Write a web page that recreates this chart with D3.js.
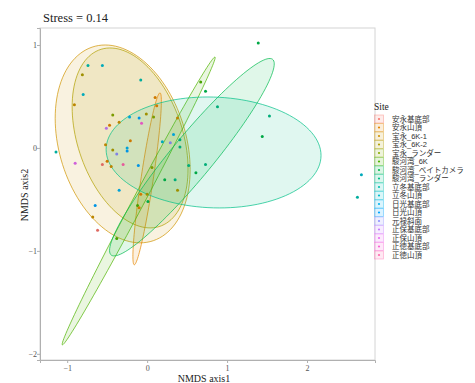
<!DOCTYPE html>
<html>
<head>
<meta charset="utf-8">
<script src="https://cdn.jsdelivr.net/npm/d3@7"></script>
<style>
  body { margin: 0; background: #fff; }
  svg text { font-family: "Liberation Serif", "DejaVu Serif", serif; }
</style>
</head>
<body>
<div id="graph"></div>
<script>
// sites (legend order) and their colours (ggplot hue palette, 17 levels)
const sites = ["安永基底部", "安永山頂", "宝永_6K-1", "宝永_6K-2", "宝永_ランダー",
  "駿河湾_6K", "駿河湾_ベイトカメラ", "駿河湾_ランダー", "立冬基底部", "立冬山頂",
  "日光基底部", "日光山頂", "元禄斜面", "正保基底部", "正保山頂", "正徳基底部", "正徳山頂"];
const siteColors = ["#F8766D", "#E58700", "#D09400", "#B1A000", "#89AC00",
  "#4FB400", "#00BB4E", "#00C087", "#00C0B0", "#00BDD0",
  "#00B4F0", "#00A5FF", "#8F91FF", "#C77CFF", "#E86BF3", "#FB61D7", "#FF65AC"];

// NMDS scores
const ptSite = [8, 9, 3, 9, 2, 8, 1, 1, 4, 10, 11, 3, 2, 1, 13, 15, 4, 2, 1, 2,
  3, 10, 11, 12, 8, 14, 0, 1, 2, 16, 11, 9, 10, 7, 7, 7, 7, 6, 6, 7,
  3, 10, 5, 6, 7, 6, 7, 6, 9, 8, 11, 2, 0, 5, 1, 3, 5, 1, 6, 4, 12];
const nmds1 = [-0.74, -0.56, -0.81, -0.80, -0.91, -0.08, 0.10, 0.12, -0.43, -0.22, -0.10, -0.01, -0.35, -0.47, -0.51, -0.07, 0.08, 0.38, -0.21, -0.52,
  -0.43, -0.25, -0.25, -0.38, -1.14, -0.90, -0.56, -0.50, -0.45, -0.30, -0.11, 0.19, 0.33, 0.41, 0.41, 0.52, 0.73, 0.61, 0.22, 0.35,
  0.38, -0.35, 0.67, 0.73, 0.88, 1.39, 1.53, 1.44, 2.68, 2.63, -0.65, -0.68, -0.62, -0.38, -0.08, 0.00, -0.12, -0.10, 0.01, 0.06, 0.29];
const nmds2 = [0.80, 0.80, 0.71, 0.52, 0.42, 0.66, 0.49, 0.41, 0.32, 0.30, 0.29, 0.33, 0.25, 0.22, 0.19, 0.24, 0.30, 0.29, 0.07, 0.03,
  -0.02, 0.00, -0.03, -0.06, -0.04, -0.15, -0.16, -0.13, -0.18, -0.16, -0.17, 0.06, 0.13, 0.08, 0.01, -0.17, -0.16, -0.24, -0.31, -0.31,
  -0.41, -0.41, 0.64, 0.55, 0.40, 1.02, 0.31, 0.11, -0.26, -0.48, -0.56, -0.67, -0.80, -0.88, -0.45, -0.45, -0.56, -0.58, -0.52, -0.19, 0.05];

// 95% ellipses: centre, spread along each axis and correlation (data units)
const ellSite = [2, 3, 1, 5, 6, 7];
const ellCx = [-0.306, -0.213, 0.000, -0.106, 0.560, 0.831];
const ellCy = [0.039, 0.097, -0.300, -0.515, -0.090, -0.044];
const ellSx = [0.844, 0.725, 0.178, 0.957, 1.030, 1.344];
const ellSy = [0.961, 0.874, 0.835, 1.398, 0.959, 0.539];
const ellRho = [-0.259, -0.345, 0.901, 0.9963, 0.945, -0.054];

const xTicks = [-1, 0, 1, 2];
const yTicks = [-2, -1, 0, 1];

const W = 475, H = 383;
const svg = d3.select("#graph").append("svg").attr("width", W).attr("height", H);

const x = d3.scaleLinear([-1.34, 2.85], [40, 375]);
const y = d3.scaleLinear([-2.06, 1.165], [360, 28]);
const col = d3.scaleOrdinal(d3.range(sites.length), siteColors);

// panel border
svg.append("rect").attr("x", 40).attr("y", 28).attr("width", 335).attr("height", 332)
  .attr("fill", "none").attr("stroke", "#d4d4d4").attr("stroke-width", 1);

// ellipses
const ellipses = ellSite.map((s, i) => ({s: s, cx: ellCx[i], cy: ellCy[i], sx: ellSx[i], sy: ellSy[i], r: ellRho[i]}));
const ellLine = d3.line().x(d => x(d[0])).y(d => y(d[1]));
function ellPts(e) {
  const pts = [];
  const k = Math.sqrt(1 - e.r * e.r);
  for (let i = 0; i <= 120; i++) {
    const t = i / 120 * 2 * Math.PI;
    pts.push([e.cx + e.sx * Math.cos(t), e.cy + e.sy * (e.r * Math.cos(t) + k * Math.sin(t))]);
  }
  return pts;
}
svg.append("g").selectAll("path").data(ellipses).enter().append("path")
  .attr("d", d => ellLine(ellPts(d)) + "Z")
  .attr("fill", d => col(d.s)).attr("fill-opacity", 0.12)
  .attr("stroke", d => col(d.s)).attr("stroke-opacity", 0.7).attr("stroke-width", 1);

// points
const points = ptSite.map((s, i) => ({s: s, x: nmds1[i], y: nmds2[i]}));
svg.append("g").selectAll("circle").data(points).enter().append("circle")
  .attr("cx", d => x(d.x)).attr("cy", d => y(d.y)).attr("r", 1.5)
  .attr("fill", d => d3.color(col(d.s)).darker(0.3));

// axes
const gx = svg.append("g").attr("transform", "translate(0,360)")
  .call(d3.axisBottom(x).tickValues(xTicks).tickSize(3).tickPadding(2).tickFormat(d3.format("d")));
const gy = svg.append("g").attr("transform", "translate(40,0)")
  .call(d3.axisLeft(y).tickValues(yTicks).tickSize(3).tickFormat(d3.format("d")));
[gx, gy].forEach(g => {
  g.select(".domain").attr("stroke", "#b0b0b0");
  g.selectAll(".tick line").attr("stroke", "#b0b0b0");
  g.selectAll(".tick text").attr("fill", "#555").style("font-size", "8px")
    .style("font-family", "'Liberation Serif', serif");
});
gy.selectAll(".tick text").attr("x", -3);

// titles
svg.append("text").attr("x", 43).attr("y", 22).style("font-size", "12.5px").attr("fill", "#222")
  .text("Stress = 0.14");
svg.append("text").attr("x", 204).attr("y", 382).attr("text-anchor", "middle")
  .style("font-size", "10px").attr("fill", "#222").text("NMDS axis1");
svg.append("text").attr("transform", "translate(28,195) rotate(-90)").attr("text-anchor", "middle")
  .style("font-size", "10px").attr("fill", "#222").text("NMDS axis2");

// legend
const leg = svg.append("g");
leg.append("text").attr("x", 374).attr("y", 110).style("font-size", "9.5px").attr("fill", "#222").text("Site");
const ly = d3.scaleLinear([0, 16], [119, 255]);
const item = leg.selectAll("g.item").data(sites).enter().append("g").attr("class", "item");
item.append("rect").attr("x", 374.5).attr("y", (d, i) => ly(i) - 4).attr("width", 9).attr("height", 8)
  .attr("fill", (d, i) => col(i)).attr("fill-opacity", 0.14)
  .attr("stroke", (d, i) => col(i)).attr("stroke-opacity", 0.45).attr("stroke-width", 0.8);
item.append("circle").attr("cx", 379).attr("cy", (d, i) => ly(i)).attr("r", 1.1).attr("fill", (d, i) => col(i));
item.append("text").attr("x", 392).attr("y", (d, i) => ly(i) + 2.8)
  .style("font-family", "'Liberation Sans', 'Noto Sans CJK JP', sans-serif").style("font-size", "7.5px").attr("fill", "#333")
  .text(d => d);
</script>
</body>
</html>
